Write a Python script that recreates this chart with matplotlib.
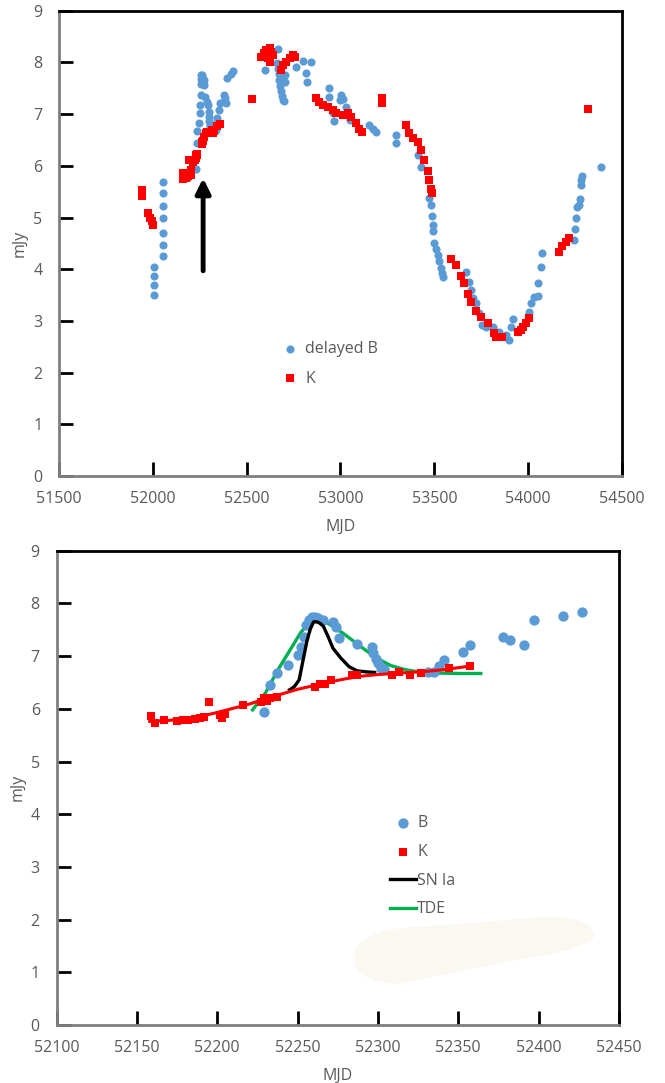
import matplotlib
matplotlib.use("Agg")
import matplotlib.pyplot as plt
from matplotlib.path import Path
from matplotlib.patches import PathPatch

plt.rcParams['font.family'] = ['Open Sans', 'DejaVu Sans']

# ---------------- Upper panel: long-term light curves ----------------
b_top_mjd = [52008, 52008, 52008, 52008,
             52053, 52053, 52053, 52053, 52053, 52053, 52053,
             52229, 52233, 52237, 52244, 52250, 52252, 52254, 52255, 52257, 52259,
             52261, 52263, 52266, 52272, 52274, 52276, 52287, 52296, 52297, 52299,
             52300, 52302, 52304, 52331, 52335, 52338, 52341, 52353, 52357, 52378,
             52382, 52391, 52397, 52415, 52427,
             52596, 52666, 52660, 52665, 52670, 52674, 52678, 52682, 52686, 52692,
             52700, 52702, 52706, 52764, 52799, 52844, 52817, 52820,
             52941, 52941, 52959, 52968, 52995, 53003, 53012, 53030, 53048, 53154,
             53172, 53190, 53296, 53296, 53411, 53429,
             53473, 53482, 53486, 53491, 53495, 53500, 53509, 53518, 53527, 53536,
             53541, 53545,
             53669, 53686, 53695, 53704, 53722, 53739, 53754, 53775, 53810, 53846,
             53881, 53899, 53908, 53917, 54005, 54014, 54032, 54050, 54055, 54067,
             54073,
             54245, 54250, 54254, 54262, 54271, 54275, 54280, 54280, 54285, 54386]
b_top_flux = [4.05, 3.86, 3.70, 3.50,
              5.68, 5.47, 5.23, 5.00, 4.70, 4.46, 4.26,
              5.93, 6.45, 6.67, 6.83, 7.02, 7.18, 7.37, 7.59, 7.68, 7.75,
              7.75, 7.72, 7.68, 7.65, 7.56, 7.34, 7.23, 7.17, 7.05, 6.94,
              6.86, 6.78, 6.75, 6.70, 6.69, 6.81, 6.93, 7.08, 7.21, 7.36,
              7.31, 7.21, 7.69, 7.77, 7.84,
              7.86, 8.26, 7.98, 7.88, 7.78, 7.66, 7.55, 7.44, 7.35, 7.28,
              7.25, 7.76, 7.62, 7.92, 8.02, 8.01, 7.80, 7.63,
              7.50, 7.34, 7.02, 6.87, 7.28, 7.37, 7.29, 7.14, 6.89, 6.79,
              6.72, 6.66, 6.60, 6.45, 6.21, 5.98,
              5.37, 5.24, 5.03, 4.85, 4.73, 4.50, 4.40, 4.27, 4.15, 4.02,
              3.92, 3.85,
              3.95, 3.76, 3.60, 3.44, 3.34, 3.15, 2.92, 2.89, 2.89, 2.79,
              2.73, 2.63, 2.89, 3.03, 3.18, 3.34, 3.47, 3.49, 3.73, 4.04,
              4.32,
              4.56, 4.77, 5.00, 5.20, 5.24, 5.35, 5.63, 5.73, 5.80, 5.98]

k_top_mjd = [51940, 51940, 51975, 51985, 51993, 52002,
             52159, 52161, 52167, 52175, 52179, 52182, 52186, 52189, 52192, 52195,
             52202, 52203, 52205, 52216, 52227, 52229, 52231, 52233, 52237, 52261,
             52264, 52267, 52271, 52284, 52287, 52309, 52313, 52320, 52327, 52344,
             52357,
             52528,
             52578, 52590, 52605, 52622, 52631, 52613, 52622, 52640,
             52684, 52693, 52711, 52729, 52746, 52755,
             52871, 52888, 52906, 52933, 52959, 52977, 53012, 53039, 53057, 53083,
             53101, 53115,
             53221, 53221,
             53349, 53367, 53384, 53411, 53429, 53447, 53464, 53473, 53482, 53488,
             53589, 53615, 53642, 53660, 53678, 53695, 53722, 53749, 53784, 53820,
             53830, 53846, 53860,
             53944, 53960, 53975, 53990, 54007,
             54165, 54182, 54200, 54218,
             54320]
k_top_flux = [5.53, 5.42, 5.08, 5.00, 4.93, 4.86,
              5.86, 5.74, 5.78, 5.76, 5.78, 5.79, 5.80, 5.82, 5.84, 6.12,
              5.88, 5.82, 5.91, 6.07, 6.12, 6.20, 6.15, 6.20, 6.23, 6.42,
              6.47, 6.48, 6.55, 6.64, 6.65, 6.64, 6.69, 6.64, 6.67, 6.77,
              6.81,
              7.30,
              8.11, 8.18, 8.24, 8.27, 8.21, 8.08, 8.01, 8.14,
              7.85, 7.95, 8.01, 8.08, 8.14, 8.11,
              7.31, 7.24, 7.18, 7.13, 7.08, 7.02, 6.98, 7.02, 6.95, 6.82,
              6.72, 6.66,
              7.32, 7.22,
              6.79, 6.63, 6.53, 6.47, 6.31, 6.11, 5.89, 5.73, 5.56, 5.47,
              4.20, 4.08, 3.86, 3.73, 3.52, 3.36, 3.20, 3.08, 2.96, 2.76,
              2.69, 2.69, 2.68,
              2.79, 2.82, 2.88, 2.95, 3.05,
              4.34, 4.44, 4.53, 4.60,
              7.10]

top_xticks = [51500, 52000, 52500, 53000, 53500, 54000, 54500]
top_yticks = [0, 1, 2, 3, 4, 5, 6, 7, 8, 9]

# ---------------- Lower panel: zoom on the 2002 flare ----------------
b_mjd = [52229, 52233, 52237, 52244, 52250, 52252, 52254, 52255, 52257, 52259,
         52261, 52263, 52266, 52272, 52274, 52276, 52287, 52296, 52297, 52299,
         52300, 52302, 52304, 52331, 52335, 52338, 52341, 52353, 52357, 52378,
         52382, 52391, 52397, 52415, 52427]
b_flux = [5.93, 6.45, 6.67, 6.83, 7.02, 7.18, 7.37, 7.59, 7.68, 7.75,
          7.75, 7.72, 7.68, 7.65, 7.56, 7.34, 7.23, 7.17, 7.05, 6.94,
          6.86, 6.78, 6.75, 6.70, 6.69, 6.81, 6.93, 7.08, 7.21, 7.36,
          7.31, 7.21, 7.69, 7.77, 7.84]

k_mjd = [52159, 52161, 52167, 52175, 52179, 52182, 52186, 52189, 52192, 52195,
         52202, 52203, 52205, 52216, 52227, 52229, 52231, 52233, 52237, 52261,
         52264, 52267, 52271, 52284, 52287, 52309, 52313, 52320, 52327, 52344,
         52357]
k_flux = [5.86, 5.74, 5.78, 5.76, 5.78, 5.79, 5.80, 5.82, 5.84, 6.12,
          5.88, 5.82, 5.91, 6.07, 6.12, 6.20, 6.15, 6.20, 6.23, 6.42,
          6.47, 6.48, 6.55, 6.64, 6.65, 6.64, 6.69, 6.64, 6.67, 6.77,
          6.81]

# smooth K baseline
kfit_mjd = [52158, 52170, 52180, 52190, 52200, 52210, 52220, 52230, 52240, 52250,
            52260, 52270, 52280, 52290, 52300, 52310, 52320, 52330, 52340, 52350,
            52357]
kfit_flux = [5.76, 5.78, 5.81, 5.86, 5.93, 6.01, 6.09, 6.19, 6.28, 6.37,
             6.44, 6.51, 6.57, 6.62, 6.65, 6.67, 6.69, 6.71, 6.74, 6.78,
             6.81]

# SN Ia template on top of the baseline
sn_mjd = [52245, 52248, 52251, 52253, 52256, 52258, 52260, 52262, 52264, 52266,
          52269, 52272, 52277, 52282, 52287, 52293, 52298]
sn_flux = [6.36, 6.42, 6.55, 6.86, 7.31, 7.52, 7.65, 7.65, 7.62, 7.57,
           7.37, 7.15, 6.96, 6.80, 6.72, 6.70, 6.69]

# TDE model
tde_mjd = [52222, 52230, 52238, 52246, 52252, 52257, 52262, 52267, 52272, 52278,
           52285, 52292, 52300, 52308, 52316, 52325, 52335, 52350, 52364]
tde_flux = [5.98, 6.30, 6.75, 7.15, 7.45, 7.62, 7.70, 7.66, 7.56, 7.44,
            7.28, 7.12, 6.95, 6.82, 6.75, 6.70, 6.68, 6.67, 6.67]

bot_xticks = [52100, 52150, 52200, 52250, 52300, 52350, 52400, 52450]
bot_yticks = [0, 1, 2, 3, 4, 5, 6, 7, 8, 9]

BLUE = '#5B9BD5'
RED = '#FF0000'
GREEN = '#00B050'
TXT = '#595959'

W, H = 665, 1083
fig = plt.figure(figsize=(W / 100, H / 100), dpi=100)


def px_box(left, top, right, bottom):
    return [left / W, 1 - bottom / H, (right - left) / W, (bottom - top) / H]


def style_axes(ax):
    for side in ('left', 'bottom'):
        ax.spines[side].set_color('#7F7F7F')
        ax.spines[side].set_linewidth(2.0)
    for side in ('top', 'right'):
        ax.spines[side].set_color('black')
        ax.spines[side].set_linewidth(2.0)
    ax.xaxis.set_tick_params(which='major', direction='in', length=10, width=2,
                             color='black', labelcolor=TXT, labelsize=11.5,
                             pad=11, bottom=True, top=False)
    ax.yaxis.set_tick_params(which='major', direction='in', length=10, width=2,
                             color='black', labelcolor=TXT, labelsize=11.5,
                             pad=12, left=True, right=False)
    for t in ax.xaxis.get_major_ticks() + ax.yaxis.get_major_ticks():
        t.tick1line.set_zorder(5)


# upper panel
ax1 = fig.add_axes(px_box(59, 10.7, 622, 476))
hb1 = ax1.scatter(b_top_mjd, b_top_flux, s=34, marker='o', color=BLUE,
                  linewidths=0, zorder=3, label='delayed B')
hk1 = ax1.scatter(k_top_mjd, k_top_flux, s=30, marker='s', color=RED,
                  linewidths=0, zorder=4, label='K')
ax1.annotate('', xy=(52268, 5.76), xytext=(52268, 3.97),
             arrowprops=dict(arrowstyle='-|>', lw=3.5, color='black',
                             mutation_scale=22, shrinkA=0, shrinkB=0))
ax1.set_xlim(51500, 54500)
ax1.set_ylim(0, 9)
ax1.set_xticks(top_xticks)
ax1.set_yticks(top_yticks)
ax1.set_xlabel('MJD', color=TXT, fontsize=11.5, labelpad=8)
ax1.set_ylabel('mJy', color=TXT, fontsize=11.5, labelpad=4)
style_axes(ax1)
ax1.legend(handles=[hb1, hk1], loc='upper left',
           bbox_to_anchor=(282 / W, 1 - 341 / H), bbox_transform=fig.transFigure,
           frameon=False, fontsize=11.5, labelcolor=TXT, handlelength=1.0,
           handletextpad=0.45, labelspacing=0.85, borderpad=0, borderaxespad=0)

# lower panel
ax2 = fig.add_axes(px_box(56.5, 550.7, 619, 1025))

# pale smudge in the empty lower-right area, drawn as a smooth closed curve
blob_px = [(354, 958), (354, 935), (400, 928), (470, 924), (540, 917), (590, 916),
           (595, 935), (590, 947), (540, 956), (470, 968), (400, 984), (354, 982),
           (354, 958)]
blob_ax = [((x - 56.5) / 562.5, (1025 - y) / 474.3) for x, y in blob_px]
codes = [Path.MOVETO] + [Path.CURVE3] * (len(blob_ax) - 1)
ax2.add_patch(PathPatch(Path(blob_ax, codes), transform=ax2.transAxes,
                        facecolor='#FAF8F1', edgecolor='none', zorder=0))

hb2 = ax2.scatter(b_mjd, b_flux, s=55, marker='o', color=BLUE,
                  linewidths=0, zorder=3, label='B')
hk2 = ax2.scatter(k_mjd, k_flux, s=40, marker='s', color=RED,
                  linewidths=0, zorder=4, label='K')
ax2.plot(kfit_mjd, kfit_flux, color=RED, lw=2.2, zorder=4)
hs, = ax2.plot(sn_mjd, sn_flux, color='black', lw=2.4, zorder=3.5, label='SN Ia')
ht, = ax2.plot(tde_mjd, tde_flux, color=GREEN, lw=2.4, zorder=2.5, label='TDE')
ax2.set_xlim(52100, 52450)
ax2.set_ylim(0, 9)
ax2.set_xticks(bot_xticks)
ax2.set_yticks(bot_yticks)
ax2.set_xlabel('MJD', color=TXT, fontsize=11.5, labelpad=8)
ax2.set_ylabel('mJy', color=TXT, fontsize=11.5, labelpad=4)
style_axes(ax2)
ax2.legend(handles=[hb2, hk2, hs, ht], loc='upper left',
           bbox_to_anchor=(390 / W, 1 - 815 / H), bbox_transform=fig.transFigure,
           frameon=False, fontsize=11.5, labelcolor=TXT, handlelength=1.6,
           handletextpad=0.1, labelspacing=0.8, borderpad=0, borderaxespad=0)

fig.savefig('out.png', dpi=100)
